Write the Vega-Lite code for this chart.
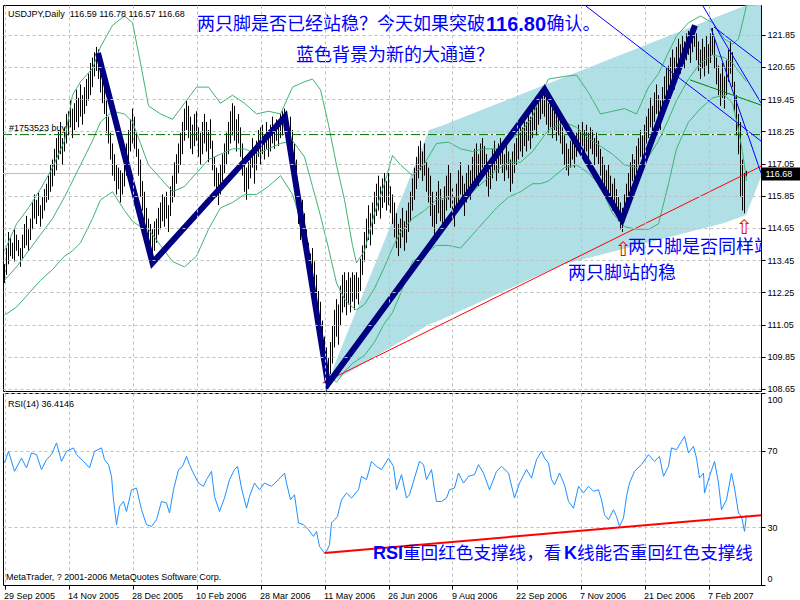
{
"$schema": "https://vega.github.io/schema/vega-lite/v6.json",
"background": "white",
"padding": {"left": 2, "top": 2, "right": 0, "bottom": 0},
"spacing": 2,
"bounds": "flush",
"config": {"view": {"stroke": "black", "strokeWidth": 1}, "axis": {"labelFont": "Liberation Sans", "labelFontSize": 9, "labelColor": "black", "gridColor": "#C0C0C0", "gridDash": [3, 3], "tickColor": "black", "domainColor": "black"}},
"datasets": {
"bars": [
{"i":0,"p":112.6,"p2":113.3},{"i":1,"p":112.9,"p2":113.9},{"i":2,"p":113.3,"p2":114.5},{"i":3,"p":113.6,"p2":114.3},{"i":4,"p":113.5,"p2":114.1},{"i":5,"p":113.4,"p2":114.6},{"i":6,"p":113.8,"p2":114.4},{"i":7,"p":113.6,"p2":114.2},{"i":8,"p":113.2,"p2":113.9},{"i":9,"p":113.5,"p2":114.4},
{"i":10,"p":113.9,"p2":114.8},{"i":11,"p":114.0,"p2":115.1},{"i":12,"p":113.8,"p2":114.6},{"i":13,"p":114.2,"p2":115.0},{"i":14,"p":114.6,"p2":115.6},{"i":15,"p":115.0,"p2":115.9},{"i":16,"p":114.8,"p2":115.7},{"i":17,"p":115.1,"p2":116.0},{"i":18,"p":114.7,"p2":115.5},{"i":19,"p":115.0,"p2":115.8},
{"i":20,"p":115.3,"p2":116.1},{"i":21,"p":115.6,"p2":116.3},{"i":22,"p":115.7,"p2":116.6},{"i":23,"p":116.0,"p2":117.0},{"i":24,"p":116.2,"p2":117.2},{"i":25,"p":116.6,"p2":117.6},{"i":26,"p":116.8,"p2":118.0},{"i":27,"p":117.2,"p2":118.3},{"i":28,"p":117.4,"p2":118.6},{"i":29,"p":117.0,"p2":118.0},
{"i":30,"p":117.5,"p2":118.4},{"i":31,"p":117.8,"p2":118.9},{"i":32,"p":118.1,"p2":119.0},{"i":33,"p":118.4,"p2":119.4},{"i":34,"p":118.0,"p2":119.1},{"i":35,"p":118.3,"p2":119.3},{"i":36,"p":118.6,"p2":119.8},{"i":37,"p":118.4,"p2":119.5},{"i":38,"p":118.8,"p2":120.0},{"i":39,"p":118.5,"p2":119.6},
{"i":40,"p":118.9,"p2":119.9},{"i":41,"p":119.2,"p2":120.2},{"i":42,"p":119.4,"p2":120.4},{"i":43,"p":119.6,"p2":120.8},{"i":44,"p":119.9,"p2":121.0},{"i":45,"p":120.3,"p2":121.2},{"i":46,"p":120.5,"p2":121.4},{"i":47,"p":120.2,"p2":121.3},{"i":48,"p":119.7,"p2":121.0},{"i":49,"p":119.3,"p2":120.3},
{"i":50,"p":118.9,"p2":119.9},{"i":51,"p":118.2,"p2":119.4},{"i":52,"p":117.8,"p2":118.8},{"i":53,"p":117.2,"p2":118.2},{"i":54,"p":116.6,"p2":117.8},{"i":55,"p":116.4,"p2":117.4},{"i":56,"p":115.9,"p2":117.0},{"i":57,"p":116.1,"p2":116.9},{"i":58,"p":115.6,"p2":116.8},{"i":59,"p":115.9,"p2":116.7},
{"i":60,"p":116.2,"p2":117.3},{"i":61,"p":116.6,"p2":117.8},{"i":62,"p":117.0,"p2":118.3},{"i":63,"p":117.5,"p2":118.7},{"i":64,"p":117.8,"p2":119.1},{"i":65,"p":117.6,"p2":118.8},{"i":66,"p":117.3,"p2":118.2},{"i":67,"p":116.6,"p2":117.6},{"i":68,"p":115.8,"p2":117.2},{"i":69,"p":115.3,"p2":116.4},
{"i":70,"p":114.9,"p2":116.0},{"i":71,"p":114.6,"p2":115.4},{"i":72,"p":114.3,"p2":115.0},{"i":73,"p":114.0,"p2":114.8},{"i":74,"p":113.5,"p2":114.6},{"i":75,"p":113.8,"p2":114.9},{"i":76,"p":114.1,"p2":115.0},{"i":77,"p":114.4,"p2":115.4},{"i":78,"p":114.6,"p2":115.6},{"i":79,"p":114.9,"p2":115.9},
{"i":80,"p":114.7,"p2":115.8},{"i":81,"p":115.0,"p2":116.0},{"i":82,"p":114.5,"p2":115.5},{"i":83,"p":115.1,"p2":116.2},{"i":84,"p":115.6,"p2":116.6},{"i":85,"p":115.8,"p2":117.1},{"i":86,"p":116.3,"p2":117.4},{"i":87,"p":116.7,"p2":117.8},{"i":88,"p":117.0,"p2":118.2},{"i":89,"p":117.4,"p2":118.6},
{"i":90,"p":117.9,"p2":119.1},{"i":91,"p":118.3,"p2":119.4},{"i":92,"p":118.0,"p2":119.2},{"i":93,"p":117.6,"p2":118.8},{"i":94,"p":117.4,"p2":118.5},{"i":95,"p":117.7,"p2":118.9},{"i":96,"p":117.9,"p2":119.0},{"i":97,"p":117.3,"p2":118.4},{"i":98,"p":117.0,"p2":118.2},{"i":99,"p":117.4,"p2":118.6},
{"i":100,"p":117.8,"p2":118.9},{"i":101,"p":117.5,"p2":118.6},{"i":102,"p":117.1,"p2":118.3},{"i":103,"p":117.6,"p2":118.7},{"i":104,"p":116.8,"p2":117.9},{"i":105,"p":116.2,"p2":117.3},{"i":106,"p":115.8,"p2":116.9},{"i":107,"p":115.5,"p2":116.7},{"i":108,"p":115.9,"p2":117.0},{"i":109,"p":116.4,"p2":117.4},
{"i":110,"p":116.7,"p2":117.8},{"i":111,"p":117.0,"p2":118.2},{"i":112,"p":117.4,"p2":118.6},{"i":113,"p":117.8,"p2":119.0},{"i":114,"p":118.1,"p2":119.3},{"i":115,"p":117.9,"p2":119.2},{"i":116,"p":117.5,"p2":118.7},{"i":117,"p":117.8,"p2":118.9},{"i":118,"p":117.3,"p2":118.4},{"i":119,"p":116.6,"p2":117.8},
{"i":120,"p":116.0,"p2":117.2},{"i":121,"p":115.7,"p2":116.9},{"i":122,"p":116.1,"p2":117.1},{"i":123,"p":116.5,"p2":117.4},{"i":124,"p":116.9,"p2":118.0},{"i":125,"p":116.3,"p2":117.5},{"i":126,"p":116.8,"p2":117.9},{"i":127,"p":117.3,"p2":118.3},{"i":128,"p":117.0,"p2":118.4},{"i":129,"p":117.4,"p2":118.5},
{"i":130,"p":117.2,"p2":118.1},{"i":131,"p":117.6,"p2":118.6},{"i":132,"p":117.3,"p2":118.3},{"i":133,"p":117.5,"p2":118.5},{"i":134,"p":117.8,"p2":118.8},{"i":135,"p":117.6,"p2":118.5},{"i":136,"p":117.9,"p2":118.7},{"i":137,"p":117.7,"p2":118.6},{"i":138,"p":118.0,"p2":118.9},{"i":139,"p":118.1,"p2":119.0},
{"i":140,"p":118.3,"p2":119.1},{"i":141,"p":117.9,"p2":118.9},{"i":142,"p":117.5,"p2":118.6},{"i":143,"p":117.8,"p2":118.8},{"i":144,"p":117.2,"p2":118.3},{"i":145,"p":116.6,"p2":117.8},{"i":146,"p":115.8,"p2":117.2},{"i":147,"p":114.8,"p2":116.3},{"i":148,"p":114.2,"p2":115.6},{"i":149,"p":114.6,"p2":115.7},
{"i":150,"p":114.0,"p2":115.2},{"i":151,"p":113.6,"p2":114.6},{"i":152,"p":113.2,"p2":114.1},{"i":153,"p":112.5,"p2":113.7},{"i":154,"p":112.8,"p2":113.9},{"i":155,"p":112.3,"p2":113.4},{"i":156,"p":111.8,"p2":112.9},{"i":157,"p":111.4,"p2":112.3},{"i":158,"p":110.6,"p2":111.9},{"i":159,"p":110.0,"p2":111.2},
{"i":160,"p":109.4,"p2":110.6},{"i":161,"p":109.0,"p2":110.2},{"i":162,"p":108.8,"p2":109.8},{"i":163,"p":109.2,"p2":110.4},{"i":164,"p":109.6,"p2":111.0},{"i":165,"p":110.2,"p2":111.6},{"i":166,"p":110.6,"p2":112.0},{"i":167,"p":110.3,"p2":111.8},{"i":168,"p":111.0,"p2":112.5},{"i":169,"p":111.5,"p2":112.9},
{"i":170,"p":111.7,"p2":113.0},{"i":171,"p":111.4,"p2":112.7},{"i":172,"p":111.8,"p2":113.0},{"i":173,"p":111.5,"p2":112.8},{"i":174,"p":111.9,"p2":113.0},{"i":175,"p":111.6,"p2":112.9},{"i":176,"p":112.0,"p2":113.0},{"i":177,"p":111.8,"p2":112.8},{"i":178,"p":112.3,"p2":113.5},{"i":179,"p":112.9,"p2":114.0},
{"i":180,"p":113.4,"p2":114.5},{"i":181,"p":113.9,"p2":115.0},{"i":182,"p":114.2,"p2":115.5},{"i":183,"p":114.0,"p2":115.2},{"i":184,"p":114.4,"p2":115.6},{"i":185,"p":114.8,"p2":116.0},{"i":186,"p":115.1,"p2":116.3},{"i":187,"p":115.3,"p2":116.6},{"i":188,"p":115.0,"p2":116.2},{"i":189,"p":115.4,"p2":116.5},
{"i":190,"p":115.6,"p2":116.7},{"i":191,"p":115.3,"p2":116.4},{"i":192,"p":115.5,"p2":116.7},{"i":193,"p":115.2,"p2":116.2},{"i":194,"p":114.8,"p2":115.9},{"i":195,"p":114.3,"p2":115.6},{"i":196,"p":113.9,"p2":115.2},{"i":197,"p":113.6,"p2":114.8},{"i":198,"p":113.9,"p2":115.0},{"i":199,"p":114.3,"p2":115.4},
{"i":200,"p":113.8,"p2":114.9},{"i":201,"p":114.1,"p2":115.3},{"i":202,"p":114.5,"p2":115.6},{"i":203,"p":114.9,"p2":116.0},{"i":204,"p":115.3,"p2":116.5},{"i":205,"p":115.7,"p2":116.9},{"i":206,"p":116.1,"p2":117.3},{"i":207,"p":116.5,"p2":117.7},{"i":208,"p":116.8,"p2":117.9},{"i":209,"p":116.4,"p2":117.5},
{"i":210,"p":116.6,"p2":117.8},{"i":211,"p":116.0,"p2":117.1},{"i":212,"p":115.6,"p2":116.9},{"i":213,"p":115.1,"p2":116.6},{"i":214,"p":114.7,"p2":116.0},{"i":215,"p":114.4,"p2":115.5},{"i":216,"p":114.8,"p2":116.0},{"i":217,"p":115.2,"p2":116.4},{"i":218,"p":114.9,"p2":116.1},{"i":219,"p":114.5,"p2":115.7},
{"i":220,"p":114.9,"p2":116.2},{"i":221,"p":115.3,"p2":116.6},{"i":222,"p":115.7,"p2":117.0},{"i":223,"p":115.4,"p2":116.7},{"i":224,"p":115.0,"p2":116.2},{"i":225,"p":114.7,"p2":115.8},{"i":226,"p":115.2,"p2":116.3},{"i":227,"p":115.6,"p2":116.8},{"i":228,"p":115.9,"p2":117.1},{"i":229,"p":115.5,"p2":116.6},
{"i":230,"p":115.1,"p2":116.3},{"i":231,"p":115.6,"p2":116.7},{"i":232,"p":115.9,"p2":117.0},{"i":233,"p":115.7,"p2":116.8},{"i":234,"p":116.0,"p2":117.3},{"i":235,"p":116.3,"p2":117.6},{"i":236,"p":116.5,"p2":117.8},{"i":237,"p":116.2,"p2":117.4},{"i":238,"p":116.6,"p2":117.8},{"i":239,"p":116.9,"p2":118.0},
{"i":240,"p":116.6,"p2":117.7},{"i":241,"p":116.2,"p2":117.4},{"i":242,"p":115.8,"p2":117.0},{"i":243,"p":116.1,"p2":117.2},{"i":244,"p":116.5,"p2":117.6},{"i":245,"p":116.8,"p2":117.9},{"i":246,"p":116.4,"p2":117.6},{"i":247,"p":116.7,"p2":117.8},{"i":248,"p":117.0,"p2":118.0},{"i":249,"p":116.7,"p2":117.7},
{"i":250,"p":116.4,"p2":117.4},{"i":251,"p":116.8,"p2":117.7},{"i":252,"p":116.5,"p2":117.5},{"i":253,"p":116.0,"p2":117.2},{"i":254,"p":116.3,"p2":117.5},{"i":255,"p":116.7,"p2":117.8},{"i":256,"p":117.0,"p2":118.0},{"i":257,"p":117.2,"p2":118.3},{"i":258,"p":117.5,"p2":118.6},{"i":259,"p":117.3,"p2":118.4},
{"i":260,"p":117.7,"p2":118.8},{"i":261,"p":117.5,"p2":118.6},{"i":262,"p":117.9,"p2":119.0},{"i":263,"p":117.6,"p2":118.8},{"i":264,"p":118.0,"p2":119.1},{"i":265,"p":118.3,"p2":119.3},{"i":266,"p":118.1,"p2":119.2},{"i":267,"p":118.5,"p2":119.5},{"i":268,"p":118.7,"p2":119.6},{"i":269,"p":118.9,"p2":119.8},
{"i":270,"p":118.8,"p2":119.8},{"i":271,"p":118.5,"p2":119.5},{"i":272,"p":118.2,"p2":119.3},{"i":273,"p":118.4,"p2":119.4},{"i":274,"p":118.0,"p2":119.1},{"i":275,"p":118.3,"p2":119.2},{"i":276,"p":117.9,"p2":118.9},{"i":277,"p":118.1,"p2":119.1},{"i":278,"p":117.8,"p2":118.8},{"i":279,"p":117.4,"p2":118.4},
{"i":280,"p":117.0,"p2":118.1},{"i":281,"p":116.8,"p2":117.8},{"i":282,"p":116.6,"p2":117.6},{"i":283,"p":116.9,"p2":117.9},{"i":284,"p":117.2,"p2":118.1},{"i":285,"p":116.9,"p2":117.8},{"i":286,"p":117.3,"p2":118.2},{"i":287,"p":117.6,"p2":118.5},{"i":288,"p":117.4,"p2":118.3},{"i":289,"p":117.7,"p2":118.6},
{"i":290,"p":117.3,"p2":118.3},{"i":291,"p":117.5,"p2":118.5},{"i":292,"p":117.2,"p2":118.2},{"i":293,"p":117.6,"p2":118.4},{"i":294,"p":117.4,"p2":118.3},{"i":295,"p":117.0,"p2":118.0},{"i":296,"p":117.3,"p2":118.2},{"i":297,"p":117.0,"p2":117.9},{"i":298,"p":116.6,"p2":117.6},{"i":299,"p":116.3,"p2":117.3},
{"i":300,"p":116.0,"p2":117.0},{"i":301,"p":115.7,"p2":116.8},{"i":302,"p":116.0,"p2":117.0},{"i":303,"p":115.6,"p2":116.6},{"i":304,"p":115.3,"p2":116.3},{"i":305,"p":115.6,"p2":116.5},{"i":306,"p":115.2,"p2":116.1},{"i":307,"p":114.9,"p2":115.8},{"i":308,"p":114.6,"p2":115.6},{"i":309,"p":114.5,"p2":115.4},
{"i":310,"p":114.9,"p2":115.9},{"i":311,"p":115.3,"p2":116.3},{"i":312,"p":115.7,"p2":116.7},{"i":313,"p":116.0,"p2":117.1},{"i":314,"p":116.4,"p2":117.4},{"i":315,"p":116.3,"p2":117.2},{"i":316,"p":116.7,"p2":117.7},{"i":317,"p":117.0,"p2":118.0},{"i":318,"p":117.3,"p2":118.3},{"i":319,"p":117.0,"p2":118.1},
{"i":320,"p":117.4,"p2":118.5},{"i":321,"p":117.8,"p2":118.8},{"i":322,"p":118.0,"p2":119.1},{"i":323,"p":118.4,"p2":119.5},{"i":324,"p":118.2,"p2":119.2},{"i":325,"p":118.6,"p2":119.7},{"i":326,"p":118.9,"p2":120.0},{"i":327,"p":118.6,"p2":119.6},{"i":328,"p":118.3,"p2":119.4},{"i":329,"p":118.7,"p2":119.9},
{"i":330,"p":119.1,"p2":120.3},{"i":331,"p":119.4,"p2":120.6},{"i":332,"p":119.6,"p2":120.7},{"i":333,"p":119.9,"p2":121.0},{"i":334,"p":120.1,"p2":121.3},{"i":335,"p":119.8,"p2":121.0},{"i":336,"p":120.2,"p2":121.4},{"i":337,"p":120.6,"p2":121.7},{"i":338,"p":120.4,"p2":121.5},{"i":339,"p":120.8,"p2":121.8},
{"i":340,"p":120.6,"p2":121.6},{"i":341,"p":120.9,"p2":121.9},{"i":342,"p":121.1,"p2":122.0},{"i":343,"p":120.8,"p2":121.8},{"i":344,"p":121.2,"p2":122.1},{"i":345,"p":121.4,"p2":122.2},{"i":346,"p":120.9,"p2":121.9},{"i":347,"p":120.5,"p2":121.6},{"i":348,"p":120.2,"p2":121.3},{"i":349,"p":120.6,"p2":121.7},
{"i":350,"p":120.3,"p2":121.4},{"i":351,"p":120.7,"p2":121.8},{"i":352,"p":120.4,"p2":121.5},{"i":353,"p":120.8,"p2":121.9},{"i":354,"p":121.1,"p2":122.1},{"i":355,"p":120.6,"p2":121.7},{"i":356,"p":120.0,"p2":121.0},{"i":357,"p":119.6,"p2":120.7},{"i":358,"p":119.2,"p2":120.4},{"i":359,"p":119.5,"p2":120.8},
{"i":360,"p":119.1,"p2":120.3},{"i":361,"p":119.6,"p2":120.9},{"i":362,"p":120.1,"p2":121.3},{"i":363,"p":120.4,"p2":121.6},{"i":364,"p":119.9,"p2":121.2},{"i":365,"p":119.0,"p2":120.1},{"i":366,"p":118.1,"p2":119.6},{"i":367,"p":117.4,"p2":118.9},{"i":368,"p":115.8,"p2":118.6},{"i":369,"p":115.3,"p2":117.2},
{"i":370,"p":115.2,"p2":116.7},{"i":371,"p":116.57,"p2":116.78}
],
"bb": [
{"i":0,"u":113.8,"m":112.7,"l":111.4},{"i":6,"u":114.8,"m":113.2,"l":111.7},{"i":12,"u":115.4,"m":113.8,"l":112.2},{"i":18,"u":116.1,"m":114.4,"l":112.7},{"i":24,"u":116.9,"m":115.0,"l":113.1},{"i":30,"u":117.9,"m":115.8,"l":113.6},{"i":34,"u":119.6,"m":116.4,"l":113.8},{"i":38,"u":120.1,"m":117.0,"l":114.1},{"i":44,"u":120.6,"m":117.9,"l":115.0},{"i":48,"u":121.4,"m":118.6,"l":115.7},
{"i":54,"u":122.2,"m":119.0,"l":116.0},{"i":60,"u":122.55,"m":118.9,"l":115.3},{"i":64,"u":122.3,"m":118.6,"l":114.9},{"i":68,"u":120.8,"m":117.8,"l":114.7},{"i":72,"u":119.2,"m":117.0,"l":114.6},{"i":78,"u":118.9,"m":116.5,"l":114.0},{"i":84,"u":118.7,"m":116.0,"l":113.4},{"i":90,"u":119.3,"m":116.2,"l":113.2},{"i":96,"u":119.9,"m":116.7,"l":113.6},{"i":102,"u":119.9,"m":117.2,"l":114.6},
{"i":108,"u":119.3,"m":117.4,"l":115.4},{"i":114,"u":119.6,"m":117.6,"l":115.6},{"i":120,"u":119.3,"m":117.6,"l":115.9},{"i":126,"u":118.9,"m":117.4,"l":115.9},{"i":132,"u":119.0,"m":117.6,"l":116.2},{"i":138,"u":118.9,"m":117.8,"l":116.6},{"i":144,"u":119.9,"m":117.9,"l":115.9},{"i":150,"u":120.1,"m":117.3,"l":114.5},{"i":154,"u":120.2,"m":116.2,"l":112.3},{"i":158,"u":119.8,"m":115.1,"l":110.3},
{"i":162,"u":118.5,"m":113.9,"l":109.2},{"i":166,"u":117.0,"m":112.6,"l":108.9},{"i":170,"u":115.7,"m":112.0,"l":109.3},{"i":174,"u":114.0,"m":111.7,"l":109.6},{"i":176,"u":113.35,"m":111.6,"l":109.7},{"i":180,"u":113.8,"m":111.8,"l":109.9},{"i":185,"u":115.2,"m":112.4,"l":110.4},{"i":190,"u":116.3,"m":113.2,"l":111.1},{"i":194,"u":117.35,"m":113.9,"l":111.5},{"i":198,"u":117.0,"m":114.5,"l":112.2},
{"i":204,"u":116.6,"m":115.0,"l":113.4},{"i":210,"u":117.05,"m":115.3,"l":113.7},{"i":216,"u":117.8,"m":115.7,"l":114.0},{"i":222,"u":117.85,"m":115.8,"l":114.0},{"i":228,"u":117.6,"m":115.8,"l":113.9},{"i":234,"u":117.5,"m":116.0,"l":114.4},{"i":240,"u":117.6,"m":116.4,"l":114.9},{"i":246,"u":117.6,"m":116.8,"l":115.4},{"i":252,"u":117.9,"m":117.1,"l":115.8},{"i":258,"u":118.2,"m":117.1,"l":116.0},
{"i":264,"u":118.8,"m":117.5,"l":116.3},{"i":268,"u":119.6,"m":117.9,"l":116.3},{"i":272,"u":120.2,"m":118.3,"l":116.4},{"i":280,"u":120.3,"m":118.6,"l":116.9},{"i":286,"u":120.35,"m":118.4,"l":117.0},{"i":292,"u":119.7,"m":118.0,"l":116.7},{"i":298,"u":118.9,"m":117.7,"l":116.2},{"i":304,"u":119.0,"m":117.4,"l":115.2},{"i":310,"u":119.1,"m":117.0,"l":114.7},{"i":316,"u":118.9,"m":116.9,"l":114.6},
{"i":322,"u":119.9,"m":117.3,"l":114.6},{"i":327,"u":120.4,"m":117.9,"l":114.8},{"i":332,"u":121.2,"m":118.7,"l":116.3},{"i":336,"u":121.8,"m":119.4,"l":117.6},{"i":342,"u":122.3,"m":120.2,"l":118.6},{"i":348,"u":122.55,"m":120.8,"l":119.1},{"i":354,"u":122.3,"m":121.1,"l":119.5},{"i":360,"u":121.7,"m":121.0,"l":119.6},{"i":364,"u":121.5,"m":120.8,"l":119.3},{"i":367,"u":121.7,"m":120.5,"l":118.3},
{"i":369,"u":122.3,"m":120.3,"l":117.5},{"i":371,"u":122.95,"m":120.1,"l":116.4}
],
"rsi": [
{"i":0,"r":63.5},{"i":2,"r":69.6},{"i":5,"r":59.2},{"i":8.5,"r":66.1},{"i":11,"r":61},{"i":13.5,"r":68.8},{"i":16,"r":67.9},{"i":18.5,"r":60.1},{"i":21,"r":65.3},{"i":23.5,"r":67.9},{"i":26,"r":74},{"i":28.5,"r":64.4},{"i":31,"r":69.6},{"i":34.5,"r":71.4},{"i":36,"r":67.9},{"i":39.5,"r":64.4},{"i":42.5,"r":61},{"i":45,"r":69.6},{"i":48.5,"r":71.4},{"i":50,"r":65.3},
{"i":52,"r":62.7},{"i":53.5,"r":56.6},{"i":54.5,"r":44.4},{"i":56,"r":31.4},{"i":57.5,"r":40.9},{"i":59.5,"r":43.5},{"i":61,"r":38.3},{"i":63.5,"r":49.6},{"i":66,"r":50.5},{"i":68.5,"r":39.2},{"i":71,"r":31.4},{"i":73.5,"r":30.5},{"i":76,"r":34},{"i":78.5,"r":43.5},{"i":81,"r":42.7},{"i":82.5,"r":37.5},{"i":84.5,"r":49.6},{"i":87,"r":60.1},{"i":89,"r":61.8},{"i":91,"r":67},
{"i":92.5,"r":62.7},{"i":94,"r":59.2},{"i":97,"r":53.1},{"i":99.5,"r":51.4},{"i":101,"r":54.9},{"i":103.5,"r":59.2},{"i":105,"r":46.1},{"i":107.5,"r":38.3},{"i":110,"r":45.3},{"i":112.5,"r":54.9},{"i":115,"r":60.1},{"i":116.5,"r":61.8},{"i":118.5,"r":50.5},{"i":121,"r":40},{"i":122.5,"r":46.1},{"i":125,"r":53.1},{"i":127.5,"r":49.6},{"i":130,"r":53.1},{"i":133.5,"r":51.4},{"i":137,"r":54.9},
{"i":140,"r":58.3},{"i":141,"r":53.1},{"i":143,"r":44.4},{"i":145,"r":47},{"i":147,"r":32.3},{"i":149.5,"r":31.4},{"i":152,"r":28.8},{"i":154.5,"r":25.3},{"i":156,"r":27.9},{"i":157.5,"r":20.1},{"i":160,"r":16.6},{"i":161,"r":17.5},{"i":162.5,"r":21},{"i":163.5,"r":32.3},{"i":165,"r":34},{"i":166.5,"r":35.7},{"i":168.5,"r":44.4},{"i":171,"r":47.9},{"i":173.5,"r":45.3},{"i":177,"r":49.6},
{"i":178.5,"r":56.6},{"i":181,"r":54.9},{"i":183.5,"r":64.4},{"i":186,"r":61.8},{"i":188.5,"r":60.1},{"i":192,"r":66.1},{"i":194.5,"r":61.8},{"i":196,"r":49.6},{"i":198.5,"r":57.5},{"i":201,"r":45.3},{"i":202.5,"r":47},{"i":205,"r":55.7},{"i":207.5,"r":64.4},{"i":209.5,"r":62.7},{"i":211,"r":54.9},{"i":213.5,"r":60.1},{"i":215,"r":49.6},{"i":216,"r":43.5},{"i":218.5,"r":43.5},{"i":221,"r":45.3},
{"i":222.5,"r":49.6},{"i":225,"r":50.5},{"i":227,"r":58.3},{"i":229.5,"r":53.1},{"i":232,"r":56.6},{"i":235,"r":57.5},{"i":237,"r":62.7},{"i":239.5,"r":58.3},{"i":242.5,"r":49.6},{"i":246,"r":59.2},{"i":248.5,"r":61.8},{"i":252,"r":58.3},{"i":255,"r":45.3},{"i":257.5,"r":53.1},{"i":261,"r":60.1},{"i":263.5,"r":55.7},{"i":266,"r":65.3},{"i":268.5,"r":69.6},{"i":270,"r":66.1},{"i":272,"r":63.5},
{"i":273.5,"r":54.9},{"i":275,"r":52.2},{"i":277.5,"r":58.3},{"i":280,"r":52.2},{"i":282,"r":43.5},{"i":284.5,"r":40},{"i":287,"r":51.4},{"i":289.5,"r":47.9},{"i":292,"r":51.4},{"i":294.5,"r":48.8},{"i":297,"r":49.6},{"i":298.5,"r":44.4},{"i":300,"r":36.6},{"i":302,"r":34},{"i":304.5,"r":39.2},{"i":306,"r":35.7},{"i":307.5,"r":30.5},{"i":309.5,"r":34.9},{"i":311,"r":46.1},{"i":312.5,"r":53.1},
{"i":315,"r":59.2},{"i":318.5,"r":62.7},{"i":322,"r":67.9},{"i":325,"r":64.4},{"i":327.5,"r":67},{"i":329.5,"r":56.6},{"i":332,"r":61.8},{"i":333.5,"r":71.4},{"i":336,"r":70.5},{"i":338.5,"r":74.8},{"i":340,"r":77.4},{"i":342,"r":68.8},{"i":344.5,"r":72.2},{"i":346,"r":66.1},{"i":347.5,"r":55.7},{"i":349.5,"r":58.3},{"i":350,"r":47.9},{"i":352.5,"r":56.6},{"i":355,"r":64.4},{"i":357,"r":53.1},
{"i":358.5,"r":39.2},{"i":361,"r":44.4},{"i":363.5,"r":58.3},{"i":365,"r":50.5},{"i":367,"r":37.5},{"i":368.5,"r":35.7},{"i":370,"r":27.9},{"i":371,"r":36.4}
]
},
"vconcat": [
{
"width": 758, "height": 386,
"encoding": {
"x": {"field": "i", "type": "quantitative", "scale": {"domain": [-0.75, 378.25], "nice": false, "zero": false}, "axis": {"values": [0,32,64,96,128,160,192,224,256,288,320,352], "labels": false, "ticks": false, "domain": false, "grid": true, "title": null, "zindex": 1}},
"y": {"field": "p", "type": "quantitative", "scale": {"domain": [108.575, 122.96], "nice": false, "zero": false}, "axis": {"orient": "right", "values": [108.65,109.85,111.05,112.25,113.45,114.65,115.85,117.05,118.25,119.45,120.65,121.85], "format": ".2f", "tickSize": 4, "labelPadding": 2, "grid": true, "title": null, "zindex": 1}}
},
"layer": [
{"data": {"values": [{"i":162.25,"p":108.84,"p2":108.84},{"i":164.75,"p":108.95,"p2":109.51},{"i":212.25,"p":111.05,"p2":118.30},{"i":218.25,"p":111.23,"p2":118.45},{"i":278.25,"p":113.27,"p2":120.22},{"i":359.75,"p":114.84,"p2":122.62},{"i":370.75,"p":115.13,"p2":122.95},{"i":378.25,"p":116.55,"p2":122.96}]}, "mark": {"type": "area", "color": "#B0E0E6", "opacity": 1}, "encoding": {"y2": {"field": "p2"}}},
{"data": {"values": [{"i":-0.75,"i2":378.25,"p":118.13}]}, "mark": {"type": "rule", "color": "white", "strokeWidth": 1}, "encoding": {"x2": {"field": "i2"}}},
{"data": {"values": [{"i":-0.75,"i2":378.25,"p":116.68}]}, "mark": {"type": "rule", "color": "#C0C0C0", "strokeWidth": 1}, "encoding": {"x2": {"field": "i2"}}},
{"data": {"name": "bars"}, "mark": {"type": "rule", "color": "black", "strokeWidth": 1}, "encoding": {"y2": {"field": "p2"}}},
{"data": {"name": "bb"}, "transform": [{"fold": ["u", "m", "l"], "as": ["band", "p"]}], "mark": {"type": "line", "color": "#3CB371", "strokeWidth": 1}, "encoding": {"detail": {"field": "band", "type": "nominal"}}},
{"data": {"values": [{"i":-0.75,"i2":378.25,"p":118.13}]}, "mark": {"type": "rule", "color": "#007000", "strokeWidth": 1, "strokeDash": [9, 3, 2, 3]}, "encoding": {"x2": {"field": "i2"}}},
{"data": {"values": [{"i":159.1,"p":108.87},{"i":378.25,"p":116.95}]}, "mark": {"type": "line", "color": "#FF0000", "strokeWidth": 1}},
{"data": {"values": [{"g":"a","i":290.75,"p":122.92},{"g":"a","i":378.25,"p":117.89},{"g":"b","i":349.25,"p":122.92},{"g":"b","i":378.25,"p":119.31},{"g":"c","i":354.75,"p":122.14},{"g":"c","i":378.25,"p":120.80},{"g":"d","i":353.25,"p":122.10},{"g":"d","i":378.25,"p":116.70}]}, "mark": {"type": "line", "color": "#0000FF", "strokeWidth": 1}, "encoding": {"detail": {"field": "g", "type": "nominal"}}},
{"data": {"values": [{"i":342.75,"p":120.17},{"i":378.25,"p":119.23}]}, "mark": {"type": "line", "color": "#008000", "strokeWidth": 1}},
{"data": {"values": [{"i":46.75,"p":121.17},{"i":74,"p":113.35},{"i":140.25,"p":118.80},{"i":161.75,"p":108.84},{"i":270,"p":119.81},{"i":308.75,"p":114.95},{"i":345.25,"p":122.20}]}, "mark": {"type": "line", "color": "#000080", "strokeWidth": 6}},
{"data": {"values": [{"i":1.75,"p":122.62,"t":"USDJPY,Daily\u00a0 116.59 116.78 116.57 116.68"},{"i":2.25,"p":118.38,"t":"#1753523 buy"}]}, "mark": {"type": "text", "align": "left", "baseline": "middle", "font": "Liberation Sans", "fontSize": 9, "color": "black"}, "encoding": {"text": {"field": "t"}}},
{"data": {"values": [{"i":96.25,"p":122.21,"t":"两只脚是否已经站稳？今天如果突破"},{"i":271,"p":122.21,"t":"确认。"},{"i":145.75,"p":121.06,"t":"蓝色背景为新的大通道？"},{"i":281.75,"p":112.94,"t":"两只脚站的稳"}]}, "mark": {"type": "text", "align": "left", "baseline": "middle", "font": "Noto Sans CJK SC", "fontSize": 18, "color": "#0000FF"}, "encoding": {"text": {"field": "t"}}},
{"data": {"values": [{"i":311.75,"p":113.90,"t":"两只脚是否同样站稳"}]}, "mark": {"type": "text", "align": "left", "baseline": "middle", "font": "Noto Sans CJK SC", "fontSize": 18, "color": "#0000FF", "clip": true}, "encoding": {"text": {"field": "t"}}},
{"data": {"values": [{"i":240.75,"p":122.21,"t":"116.80"}]}, "mark": {"type": "text", "align": "left", "baseline": "middle", "font": "Liberation Sans", "fontSize": 20, "fontWeight": "bold", "color": "#0000FF"}, "encoding": {"text": {"field": "t"}}},
{"data": {"values": [{"i":309.25,"p":113.83,"t":"⇧"},{"i":369.75,"p":114.65,"t":"⇧"}]}, "mark": {"type": "text", "align": "center", "baseline": "middle", "font": "DejaVu Sans", "fontSize": 20, "color": "#FF0000"}, "encoding": {"text": {"field": "t"}}},
{"data": {"values": [{"i":378.25,"i2":398.25,"p":116.42,"p2":116.9}]}, "mark": {"type": "rect", "color": "black"}, "encoding": {"x2": {"field": "i2"}, "y2": {"field": "p2"}}},
{"data": {"values": [{"i":380.5,"p":116.66,"t":"116.68"}]}, "mark": {"type": "text", "align": "left", "baseline": "middle", "font": "Liberation Sans", "fontSize": 9, "color": "white"}, "encoding": {"text": {"field": "t"}}}
]
},
{
"width": 758, "height": 192,
"encoding": {
"x": {"field": "i", "type": "quantitative", "scale": {"domain": [-0.75, 378.25], "nice": false, "zero": false}, "axis": {"values": [0,32,64,96,128,160,192,224,256,288,320,352], "labelExpr": "['29 Sep 2005','14 Nov 2005','28 Dec 2005','10 Feb 2006','28 Mar 2006','11 May 2006','26 Jun 2006','9 Aug 2006','22 Sep 2006','7 Nov 2006','21 Dec 2006','7 Feb 2007'][round(datum.value/32)]", "labelAlign": "left", "labelOffset": -1, "labelOverlap": false, "labelBound": false, "tickSize": 4, "labelPadding": 2, "grid": true, "title": null}},
"y": {"field": "r", "type": "quantitative", "scale": {"domain": [0, 100], "nice": false, "zero": false}, "axis": {"orient": "right", "values": [0, 30, 70, 100], "tickSize": 4, "labelPadding": 2, "grid": true, "labelFlush": true, "labelFlushOffset": -2, "title": null}}
},
"layer": [
{"data": {"name": "rsi"}, "mark": {"type": "line", "color": "#1E90FF", "strokeWidth": 1}},
{"data": {"values": [{"i":160,"r":16.7},{"i":378.25,"r":36.3}]}, "mark": {"type": "line", "color": "#FF0000", "strokeWidth": 2}},
{"data": {"values": [{"i":1.75,"r":94.27,"t":"RSI(14) 36.4146"},{"i":0.75,"r":4.17,"t":"MetaTrader, ? 2001-2006 MetaQuotes Software Corp."}]}, "mark": {"type": "text", "align": "left", "baseline": "middle", "font": "Liberation Sans", "fontSize": 9, "color": "black"}, "encoding": {"text": {"field": "t"}}},
{"data": {"values": [{"i":184.25,"r":16.15,"t":"RSI"},{"i":279.75,"r":16.15,"t":"K"}]}, "mark": {"type": "text", "align": "left", "baseline": "middle", "font": "Liberation Sans", "fontSize": 18, "fontWeight": "bold", "color": "#0000FF"}, "encoding": {"text": {"field": "t"}}},
{"data": {"values": [{"i":199.25,"r":16.15,"t":"重回红色支撑线，看"},{"i":286.25,"r":16.15,"t":"线能否重回红色支撑线"}]}, "mark": {"type": "text", "align": "left", "baseline": "middle", "font": "Noto Sans CJK SC", "fontSize": 17.6, "color": "#0000FF"}, "encoding": {"text": {"field": "t"}}}
]
}
]
}
